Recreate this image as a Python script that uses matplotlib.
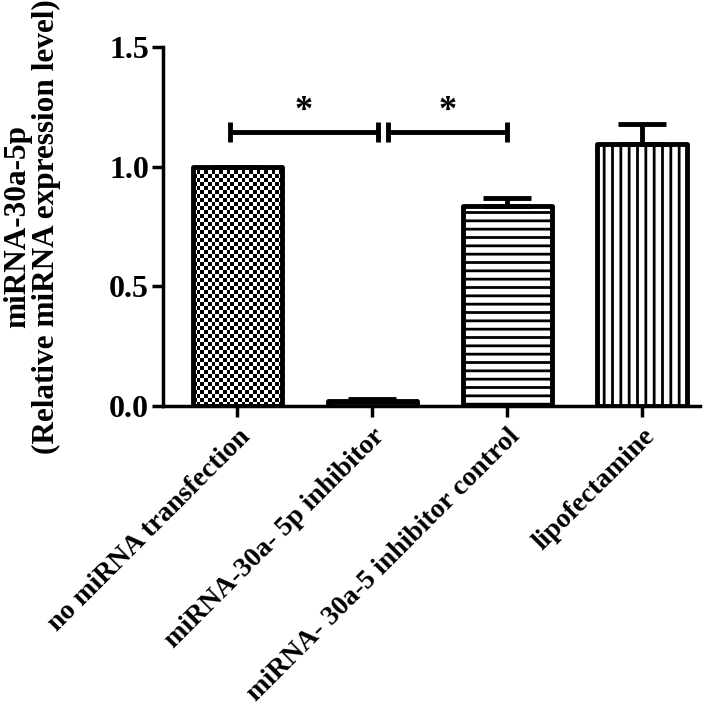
import numpy as np
import matplotlib
matplotlib.use("Agg")
import matplotlib.pyplot as plt
from matplotlib.transforms import ScaledTranslation

plt.rcParams['font.family'] = ['Liberation Serif', 'DejaVu Serif']
plt.rcParams['font.weight'] = 'bold'
plt.rcParams['hatch.linewidth'] = 2.0

# data
groups = ['no miRNA transfection', 'miRNA-30a- 5p inhibitor',
          'miRNA- 30a-5 inhibitor control', 'lipofectamine']
means = [1.0, 0.02, 0.835, 1.095]
sems = [0.0, 0.01, 0.035, 0.085]
hatches = [None, '---', '--', '||']
# significance brackets: (left, right, height)
brackets = [(-0.05, 1.04, 1.145), (1.12, 2.0, 1.145)]

fig = plt.figure(figsize=(7.09, 7.05), dpi=100)
ax = fig.add_axes([163 / 709, 1 - 406 / 705, (700 - 163) / 709, (406 - 47) / 705])

x = np.arange(len(groups))
bars = ax.bar(x, means, width=0.66, color='white', edgecolor='black',
              linewidth=3.5, zorder=3)
for b, h in zip(bars, hatches):
    b.set_joinstyle('round')
    if h:
        b.set_hatch(h)

# checkerboard fill for the first bar
b0 = bars[0]
b0.set_facecolor('none')
nx, ny = 24, 60
board = (np.add.outer(np.arange(ny), np.arange(nx)) % 2).astype(float)
im = ax.imshow(board, cmap='gray', vmin=0, vmax=1, interpolation='nearest',
               extent=[b0.get_x(), b0.get_x() + b0.get_width(), 0, b0.get_height()],
               aspect='auto', zorder=2)
im.set_clip_path(b0)

ax.errorbar(x, means, yerr=[np.zeros(len(sems)), sems], fmt='none',
            ecolor='black', elinewidth=3.5, capsize=17, capthick=3.5, zorder=4)

for x0, x1, y in brackets:
    ax.plot([x0, x1], [y, y], color='black', lw=3.5, solid_capstyle='butt')
    for xe in (x0, x1):
        ax.plot([xe, xe], [y - 0.04, y + 0.04], color='black', lw=3.5,
                solid_capstyle='butt')
    ax.text((x0 + x1) / 2, y + 0.015, '*', ha='center', va='bottom',
            fontsize=26, fontweight='bold')

ax.set_xlim(-0.55, 3.43)
ax.set_ylim(0, 1.5)
ax.set_yticks([0, 0.5, 1.0, 1.5])
ax.set_yticklabels(['0.0', '0.5', '1.0', '1.5'], fontsize=23, fontweight='bold')
ax.set_xticks(x)
ax.set_xticklabels(groups, rotation=45, ha='right', rotation_mode='anchor',
                   fontsize=20, fontweight='bold')
shift = ScaledTranslation(-5 / 100, 0, fig.dpi_scale_trans)
for lab in ax.get_xticklabels():
    lab.set_transform(lab.get_transform() + shift)
ax.tick_params(axis='both', width=2.5, length=8, direction='out')
ax.tick_params(axis='x', pad=5)
ax.tick_params(axis='y', pad=2)

for s in ['top', 'right']:
    ax.spines[s].set_visible(False)
for s in ['left', 'bottom']:
    ax.spines[s].set_linewidth(2.5)

ax.set_ylabel('miRNA-30a-5p\n(Relative miRNA expression level)',
              fontsize=22.5, fontweight='bold', linespacing=1.0)
ax.yaxis.set_label_coords(-0.19, 0.5)

fig.savefig('out.png', dpi=100)
